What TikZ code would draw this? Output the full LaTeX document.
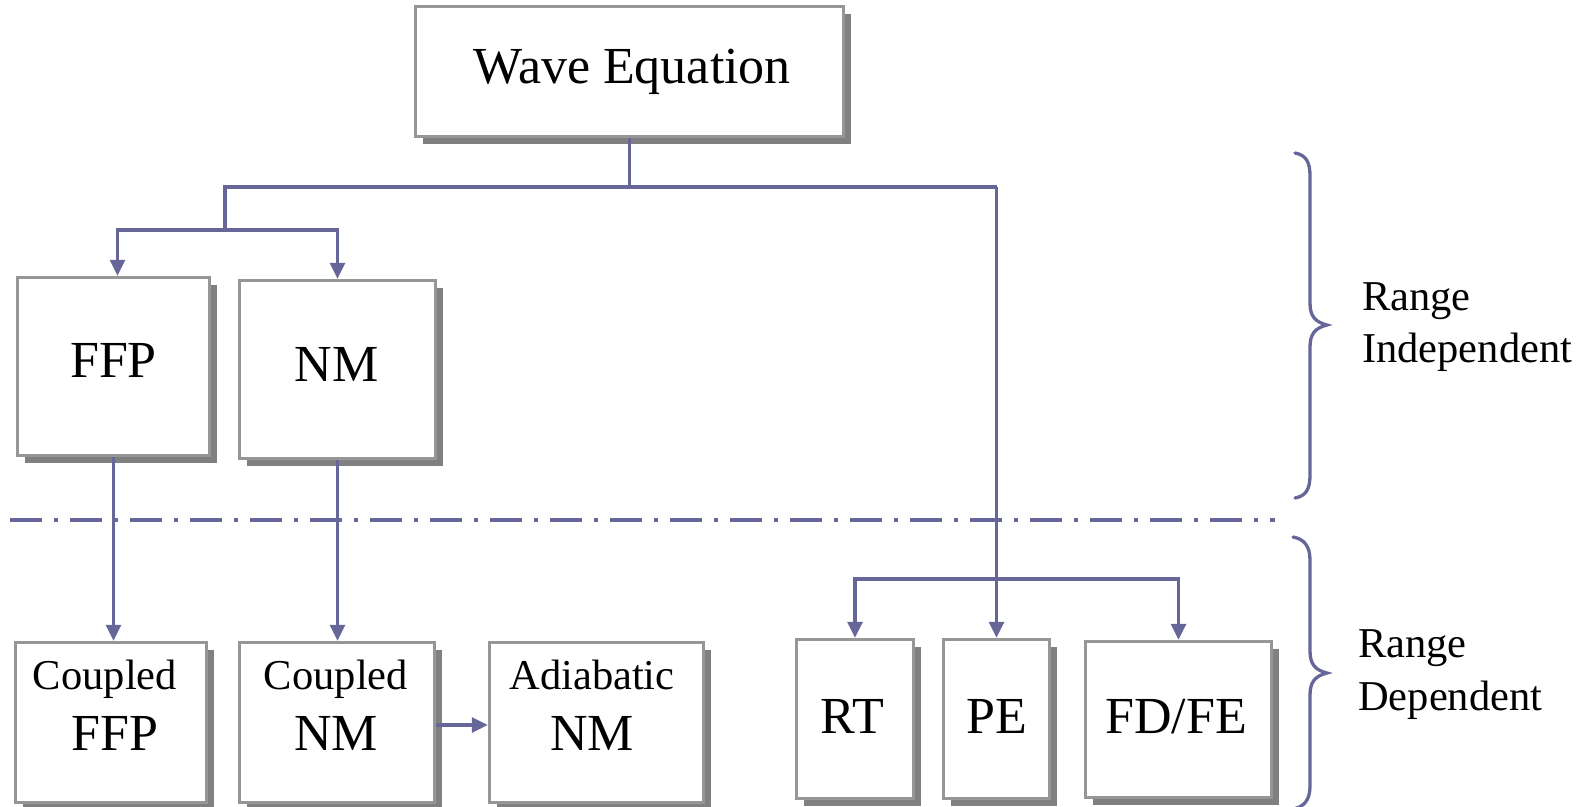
\documentclass[tikz,border=0pt]{standalone}
\usepackage{fontspec}
\setmainfont{Liberation Serif}
\usetikzlibrary{arrows.meta,shadows}
\definecolor{linec}{RGB}{102,102,153}
\definecolor{boxline}{RGB}{150,150,150}
\definecolor{shadowc}{RGB}{128,128,128}
\begin{document}
\begin{tikzpicture}[x=1pt,y=-1pt,
  box/.style={draw=boxline, line width=3.5pt, fill=white, rectangle, inner sep=0pt,
    general shadow={fill=shadowc, shadow xshift=7pt, shadow yshift=-7pt}},
  conn/.style={draw=linec, line width=3.3pt},
  arr/.style={-{Triangle[length=16pt,width=15pt]}},
  big/.style={font=\fontsize{52}{60}\selectfont, anchor=base, inner sep=0pt},
  small/.style={font=\fontsize{42.5}{50}\selectfont, anchor=base, inner sep=0pt},
  side/.style={font=\fontsize{42.5}{50}\selectfont, anchor=base west, inner sep=0pt}]
\useasboundingbox (0,0) rectangle (1589,806);

% boxes
\node[box, minimum width=428pt, minimum height=130pt] (we) at (629.5,71.5) {};
\node[box, minimum width=192pt, minimum height=178pt] (ffp) at (113.5,366.5) {};
\node[box, minimum width=196pt, minimum height=178pt] (nm) at (337.5,369.5) {};
\node[box, minimum width=191pt, minimum height=160pt] (cffp) at (111,722.5) {};
\node[box, minimum width=195pt, minimum height=160pt] (cnm) at (337,722.5) {};
\node[box, minimum width=214pt, minimum height=160pt] (anm) at (596.5,722.5) {};
\node[box, minimum width=117pt, minimum height=159pt] (rt) at (855,719) {};
\node[box, minimum width=106pt, minimum height=159pt] (pe) at (996.5,719) {};
\node[box, minimum width=186pt, minimum height=156pt] (fdfe) at (1178.5,719.5) {};

% texts
\node[big] (tWE) at (632,83) {Wave Equation};
\node[big] (tFFP) at (113.5,377) {FFP};
\node[big] (tNM) at (336.5,381) {NM};
\node[small] (tC1) at (105,689) {Coupled};
\node[big] (tC1b) at (115,750) {FFP};
\node[small] (tC2) at (336,689) {Coupled};
\node[big] (tC2b) at (336,750) {NM};
\node[small] (tA) at (592,689) {Adiabatic};
\node[big] (tAb) at (592,750) {NM};
\node[big] (tRT) at (852.5,733) {RT};
\node[big] (tPE) at (997,733) {PE};
\node[big] (tFD) at (1176,733) {FD/FE};
\node[side] (tR1) at (1362,310) {Range};
\node[side] (tR2) at (1362,362) {Independent};
\node[side] (tR3) at (1358,657) {Range};
\node[side] (tR4) at (1358,710) {Dependent};

% junction coordinates
\coordinate (jTop) at (629.5,187);
\coordinate (jA) at (225,187);
\coordinate (jL) at (225,230);
\coordinate (jR) at (996.5,579);

% connectors
\draw[conn] (we.south) -- (jTop);
\draw[conn] (jL) -- (jA) -- (jTop) -- (pe.north |- jTop);
\draw[conn,arr] (pe.north |- jTop) -- (pe.north);
\draw[conn,arr] (jL) -| ([xshift=4pt]ffp.north);
\draw[conn,arr] (jL) -| (nm.north);
\draw[conn,arr] (ffp.south) -- (ffp.south |- cffp.north);
\draw[conn,arr] (nm.south) -- (nm.south |- cnm.north);
\draw[conn,arr] ([yshift=-2.5pt]cnm.east) -- ([yshift=-2.5pt]anm.west);
\draw[conn,arr] (jR) -| (rt.north);
\draw[conn,arr] (jR) -| (fdfe.north);

% dash-dot separator
\coordinate (dL) at (10,520);
\coordinate (dR) at (1275,520);
\draw[draw=linec, line width=3.5pt, dash pattern=on 32pt off 12pt on 4pt off 12pt] (dL) -- (dR);

% braces
\draw[conn, line cap=round] (1295,153) .. controls (1306,155) and (1310,162) .. (1310,176)
  -- (1310,303) .. controls (1310,316) and (1315,322) .. (1327,325)
  .. controls (1315,328) and (1310,334) .. (1310,347)
  -- (1310,475) .. controls (1310,489) and (1306,496) .. (1295,498);
\draw[conn, line cap=round] (1293,537) .. controls (1304,539) and (1310,546) .. (1310,560)
  -- (1310,651) .. controls (1310,664) and (1315,670) .. (1327,673)
  .. controls (1315,676) and (1310,682) .. (1310,695)
  -- (1310,786) .. controls (1310,800) and (1304,807) .. (1293,809);
\end{tikzpicture}
\end{document}
